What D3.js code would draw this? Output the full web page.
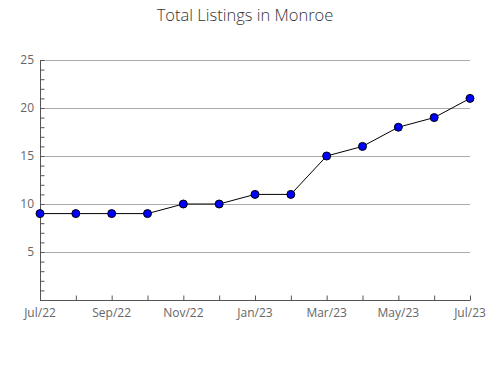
<!DOCTYPE html>
<html>
<head>
<meta charset="utf-8">
<script src="https://cdn.jsdelivr.net/npm/d3@7"></script>
<style>
    body { margin: 0; background: #fff; }
    text { font-family: "Open Sans", "Noto Sans", sans-serif; }
</style>
</head>
<body>
<div id="chart"></div>
<script>
var months = ["Jul/22", "Aug/22", "Sep/22", "Oct/22", "Nov/22", "Dec/22",
    "Jan/23", "Feb/23", "Mar/23", "Apr/23", "May/23", "Jun/23", "Jul/23"];
var listings = [9, 9, 9, 9, 10, 10, 11, 11, 15, 16, 18, 19, 21];
var yTicks = [5, 10, 15, 20, 25];

var width = 490;
var height = 380;
var margin = {top: 60, right: 20, bottom: 80, left: 40};
var chartWidth = width - margin.left - margin.right;
var chartHeight = height - margin.top - margin.bottom;

var svg = d3.select("#chart").append("svg")
    .attr("width", width)
    .attr("height", height);

svg.append("text")
    .attr("x", width / 2)
    .attr("y", 21)
    .attr("text-anchor", "middle")
    .style("font-size", "16.5px")
    .style("font-weight", 300)
    .style("fill", "#333")
    .text("Total Listings in Monroe");

var g = svg.append("g")
    .attr("transform", "translate(" + margin.left + "," + margin.top + ")");

var xScale = d3.scalePoint()
    .domain(months)
    .range([0, chartWidth]);

var yScale = d3.scaleLinear()
    .domain([0, 25])
    .range([chartHeight, 0]);

// gridlines
g.append("g")
    .selectAll("line")
    .data(yTicks)
    .enter()
    .append("line")
    .attr("x1", 0)
    .attr("x2", chartWidth)
    .attr("y1", function(d){ return yScale(d) + 0.5; })
    .attr("y2", function(d){ return yScale(d) + 0.5; })
    .style("stroke", "#aaa")
    .style("stroke-width", 1);

// y axis with minor ticks inside
var yAxisG = g.append("g")
    .attr("transform", "translate(0.5,0)")
    .call(d3.axisRight(yScale).ticks(25).tickSize(4).tickFormat(""));
yAxisG.select(".domain").remove();
yAxisG.selectAll("line").style("stroke", "#555");

g.append("g")
    .selectAll("text")
    .data(yTicks)
    .enter()
    .append("text")
    .attr("x", -6)
    .attr("y", function(d){ return yScale(d); })
    .attr("dy", "0.32em")
    .attr("text-anchor", "end")
    .style("font-size", "12px")
    .style("fill", "#666")
    .text(function(d){ return d; });

g.append("line")
    .attr("x1", 0.5).attr("x2", 0.5)
    .attr("y1", 0).attr("y2", chartHeight)
    .style("stroke", "#555");

// x axis
var xAxisG = g.append("g")
    .attr("transform", "translate(0," + (chartHeight + 0.5) + ")")
    .call(d3.axisTop(xScale).tickSize(5).tickFormat(""));
xAxisG.select(".domain").remove();
xAxisG.selectAll("line").style("stroke", "#555");

g.append("line")
    .attr("x1", 0).attr("x2", chartWidth)
    .attr("y1", chartHeight + 0.5).attr("y2", chartHeight + 0.5)
    .style("stroke", "#555");

g.append("g")
    .selectAll("text")
    .data(months.filter(function(d, i){ return i % 2 === 0; }))
    .enter()
    .append("text")
    .attr("x", function(d){ return xScale(d); })
    .attr("y", chartHeight + 17)
    .attr("text-anchor", "middle")
    .style("font-size", "12px")
    .style("fill", "#666")
    .text(function(d){ return d; });

// line
var line = d3.line()
    .x(function(d, i){ return xScale(months[i]); })
    .y(function(d){ return yScale(d); });

g.append("path")
    .datum(listings)
    .attr("d", line)
    .style("fill", "none")
    .style("stroke", "#000")
    .style("stroke-width", 1);

g.selectAll("circle")
    .data(listings)
    .enter()
    .append("circle")
    .attr("cx", function(d, i){ return xScale(months[i]); })
    .attr("cy", function(d){ return yScale(d); })
    .attr("r", 4)
    .style("fill", "#0000ff")
    .style("stroke", "#000")
    .style("stroke-width", 1);
</script>
</body>
</html>
